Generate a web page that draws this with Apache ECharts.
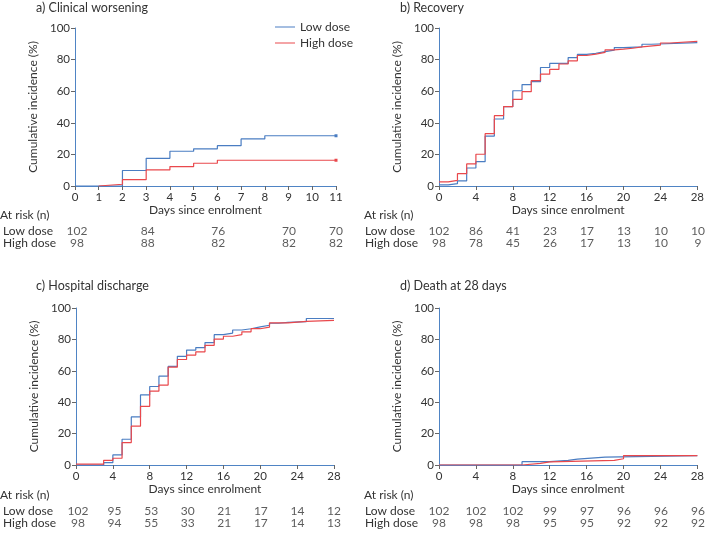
<!DOCTYPE html>
<html>
<head>
<meta charset="utf-8">
<script src="https://cdn.jsdelivr.net/npm/echarts@6/dist/echarts.min.js"></script>
<style>
html,body{margin:0;padding:0;background:#fff;}
#chart{width:707px;height:534px;}
</style>
</head>
<body>
<div id="chart"></div>
<script>
// ---------- DATA ----------
var groupNames = ['Low dose', 'High dose'];

// a) Clinical worsening  [day, cumulative incidence %]
var worseLow  = [[0,0],[2,9.8],[3,17.5],[4,22],[5,23.5],[6,25.5],[7,29.8],[8,31.8],[11,31.8]];
var worseHigh = [[1,0],[1,1.1],[2,4],[3,10.2],[4,12.3],[5,14.4],[6,16.3],[11,16.3]];
var worseRiskDays = [0,3,6,9,11];
var worseRiskLow  = [102,84,76,70,70];
var worseRiskHigh = [98,88,82,82,82];

// b) Recovery
var recovLow  = [[0,0.7],[1,1.5],[2,3.2],[3,11.4],[4,15.4],[5,31.6],[6,42.4],[7,50.2],[8,60.3],[9,64.2],[10,66.1],[11,75],[12,77.6],[14,81.3],[15,83.3],[16,84],[17,85],[18,86],[19,87.6],[20,88],[22,89.7],[23,90.8],[28,90.8]];
var recovHigh = [[0,2.6],[1,3.6],[2,7.8],[3,14],[4,20.1],[5,33.1],[6,44.5],[7,50.2],[8,54.8],[9,59.7],[10,66.7],[11,70.8],[12,73.8],[13,77.2],[14,79.2],[15,82.6],[16,83.5],[17,84.6],[18,86.2],[19,86.6],[20,87.2],[21,88],[22,89.2],[24,90.5],[25,91.5],[28,91.5]];
var recovRiskDays = [0,4,8,12,16,20,24,28];
var recovRiskLow  = [102,86,41,23,17,13,10,10];
var recovRiskHigh = [98,78,45,26,17,13,10,9];

// c) Hospital discharge
var dischLow  = [[0,0],[3,1.5],[4,6.4],[5,16.4],[6,30.6],[7,44.7],[8,50],[9,56.6],[10,62.8],[11,69.2],[12,73.2],[13,74.8],[14,78],[15,83],[16,84],[17,86],[18,86.8],[19,88],[20,89],[21,90.3],[22,90.8],[23,91.3],[25,93.3],[28,93.3]];
var dischHigh = [[0,0.5],[3,3],[4,4.3],[5,14.3],[6,24.7],[7,37.4],[8,47],[9,50.9],[10,62.3],[11,67.2],[12,70],[13,72.1],[14,76.2],[15,80.2],[16,82],[17,83],[18,84.8],[19,86.8],[20,87.8],[21,90.5],[23,91],[24,91.5],[25,92.1],[28,92.1]];
var dischRiskDays = [0,4,8,12,16,20,24,28];
var dischRiskLow  = [102,95,53,30,21,17,14,12];
var dischRiskHigh = [98,94,55,33,21,17,14,13];

// d) Death at 28 days
var deathLow  = [[0,0],[9,2.1],[12,3],[14,3.8],[15,5],[18,6],[28,6]];
var deathHigh = [[0,0],[9,1],[11,2],[12,3],[19,4],[20,6],[28,6]];
var deathRiskDays = [0,4,8,12,16,20,24,28];
var deathRiskLow  = [102,102,102,99,97,96,96,96];
var deathRiskHigh = [98,98,98,95,95,92,92,92];

// ---------- STYLE ----------
var FONT = 'Lato';
var TXT = '#333';
var BLUE = '#4a7dc2';
var RED = '#e9484c';
var AXIS = '#4f84c4';

var panels = [
  {title:'a) Clinical worsening', tx:36, ty:1, grid:{left:75, width:261, top:28, height:158}, max:11, interval:1,
   low:worseLow, high:worseHigh, rd:worseRiskDays, rl:worseRiskLow, rh:worseRiskHigh, tableTop:224.4, riskX:0, endDots:true},
  {title:'b) Recovery', tx:400, ty:1, grid:{left:439, width:259, top:28, height:158}, max:28, interval:4,
   low:recovLow, high:recovHigh, rd:recovRiskDays, rl:recovRiskLow, rh:recovRiskHigh, tableTop:224.4, riskX:364},
  {title:'c) Hospital discharge', tx:36, ty:279, grid:{left:76, width:258, top:308, height:157}, max:28, interval:4,
   low:dischLow, high:dischHigh, rd:dischRiskDays, rl:dischRiskLow, rh:dischRiskHigh, tableTop:504.4, riskX:0},
  {title:'d) Death at 28 days', tx:400, ty:279, grid:{left:439, width:259, top:308, height:157}, max:28, interval:4,
   low:deathLow, high:deathHigh, rd:deathRiskDays, rl:deathRiskLow, rh:deathRiskHigh, tableTop:504.4, riskX:364}
];

var grids = [], xAxes = [], yAxes = [], series = [], titles = [];

panels.forEach(function (p, i) {
  grids.push(p.grid);
  titles.push({text:p.title, left:p.tx, top:p.ty, padding:0,
    textStyle:{fontFamily:FONT, fontSize:12.5, fontWeight:'normal', color:TXT}});
  titles.push({text:'At risk (n)', left:p.riskX, top:p.tableTop - 15, padding:0,
    textStyle:{fontFamily:FONT, fontSize:12, fontWeight:'normal', color:TXT}});
  xAxes.push({
    gridIndex:i, type:'value', min:0, max:p.max, interval:p.interval,
    name:'Days since enrolment', nameLocation:'middle', nameGap:18,
    nameTextStyle:{fontFamily:FONT, fontSize:12, color:TXT},
    axisLine:{show:true, onZero:false, lineStyle:{color:AXIS, width:1}},
    axisTick:{show:true, length:4, lineStyle:{color:'#666'}},
    axisLabel:{margin:5, fontFamily:FONT, fontSize:11.5, color:TXT},
    splitLine:{show:false}
  });
  yAxes.push({
    gridIndex:i, type:'value', min:0, max:100, interval:20,
    name:'Cumulative incidence (%)', nameLocation:'middle', nameGap:36, nameRotate:90,
    nameTextStyle:{fontFamily:FONT, fontSize:12, color:TXT},
    axisLine:{show:true, lineStyle:{color:AXIS, width:1}},
    axisTick:{show:true, length:4, lineStyle:{color:'#666'}},
    axisLabel:{margin:5, fontFamily:FONT, fontSize:11.5, color:TXT},
    splitLine:{show:false}
  });
  function mk(data) {
    if (!p.endDots) return data;
    return data.map(function (d, k) {
      return k === data.length - 1 ? {value:d, symbol:'rect', symbolSize:3} : {value:d};
    });
  }
  series.push({name:groupNames[0], type:'line', step:'end', xAxisIndex:i, yAxisIndex:i,
    data:mk(p.low), symbol:'none', showSymbol:true, lineStyle:{color:BLUE, width:1.2}, itemStyle:{color:BLUE},
    animation:false, silent:true, z:3});
  series.push({name:groupNames[1], type:'line', step:'end', xAxisIndex:i, yAxisIndex:i,
    data:mk(p.high), symbol:'none', showSymbol:true, lineStyle:{color:RED, width:1.2}, itemStyle:{color:RED},
    animation:false, silent:true, z:4});
});

// at-risk tables
panels.forEach(function (p, i) {
  var gi = 4 + i;
  grids.push({left:p.grid.left, width:p.grid.width, top:p.tableTop, height:25.2});
  xAxes.push({gridIndex:gi, type:'value', min:0, max:p.max, show:false});
  yAxes.push({gridIndex:gi, type:'category', data:groupNames, inverse:true,
    axisLine:{show:false}, axisTick:{show:false}, splitLine:{show:false},
    axisLabel:{interval:0, align:'left', margin:p.grid.left - p.riskX - 1, fontFamily:FONT, fontSize:12, color:TXT}});
  var pts = [];
  p.rd.forEach(function (d, k) {
    pts.push([d, groupNames[0], p.rl[k]]);
    pts.push([d, groupNames[1], p.rh[k]]);
  });
  series.push({type:'scatter', xAxisIndex:gi, yAxisIndex:gi, data:pts, symbol:'circle', symbolSize:1,
    itemStyle:{color:'rgba(0,0,0,0)'}, animation:false, silent:true,
    label:{show:true, position:'inside', formatter:function (q) { return q.value[2]; },
      fontFamily:FONT, fontSize:12, color:TXT}});
});

var lineIcon = 'path://M0,0 L20,0 L20,1 L0,1 Z';
var chart = echarts.init(document.getElementById('chart'), null, {renderer:'canvas'});
chart.setOption({
  backgroundColor:'#fff',
  animation:false,
  title:titles,
  legend:{data:[{name:groupNames[0], icon:lineIcon}, {name:groupNames[1], icon:lineIcon}],
    orient:'vertical', left:275, top:20, padding:0, itemGap:2,
    itemWidth:20, itemHeight:1.2, textStyle:{fontFamily:FONT, fontSize:12, color:TXT, lineHeight:14}, selectedMode:false},
  grid:grids, xAxis:xAxes, yAxis:yAxes, series:series
});
</script>
</body>
</html>
